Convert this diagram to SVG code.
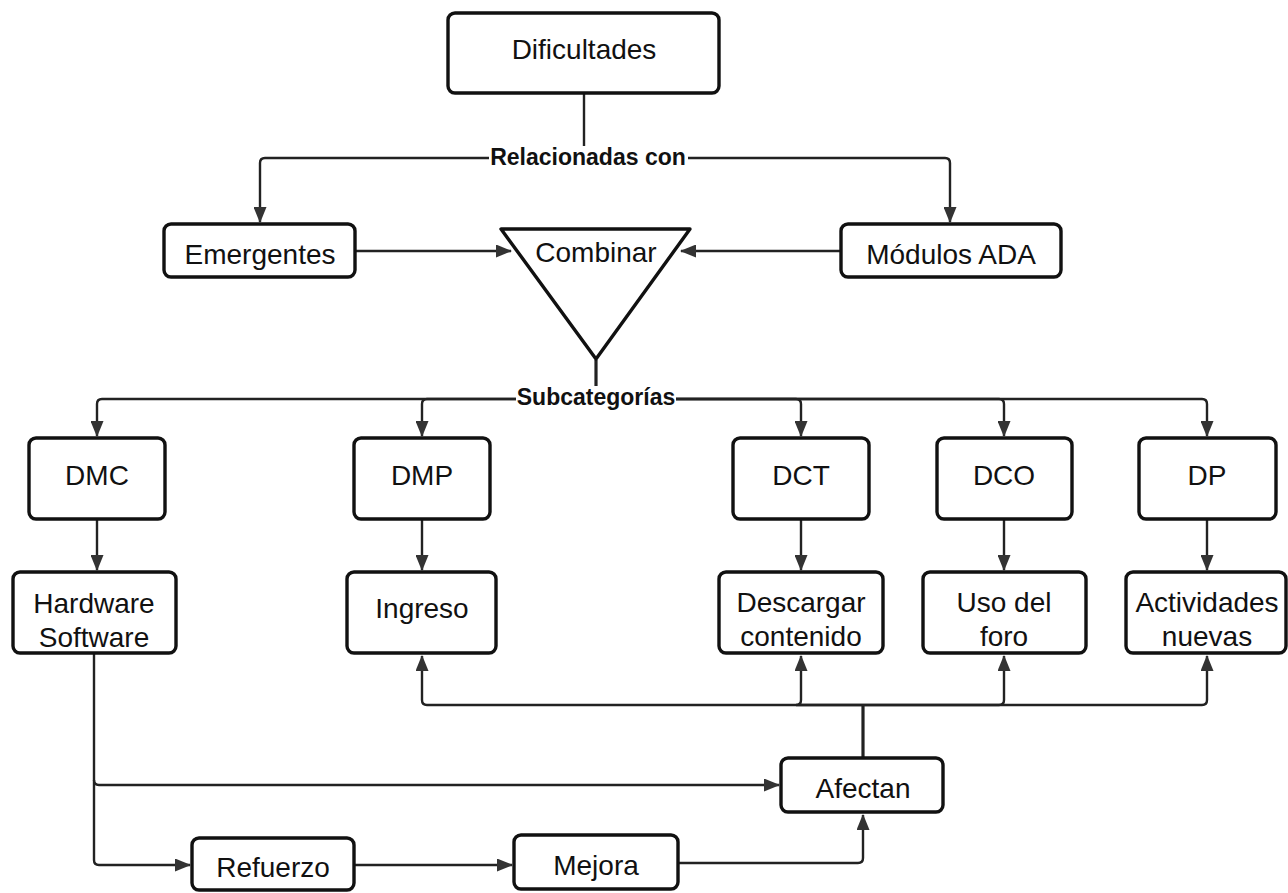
<svg xmlns="http://www.w3.org/2000/svg" width="1288" height="893" viewBox="0 0 1288 893">
<style>
.box{fill:#fff;stroke:#111;stroke-width:3.4}
.t{font-family:"Liberation Sans",Arial,sans-serif;font-size:28px;fill:#111;text-anchor:middle}
.lb{font-family:"Liberation Sans",Arial,sans-serif;font-size:23px;font-weight:bold;fill:#111;text-anchor:middle}
.c{fill:none;stroke:#222;stroke-width:2.4}
.thick{stroke-width:3.2}
</style>
<defs>
<marker id="a" markerUnits="userSpaceOnUse" markerWidth="16" markerHeight="13" refX="15" refY="6.5" orient="auto">
<path d="M0,0 L16,6.5 L0,13 z" fill="#333"/>
</marker>
</defs>
<rect width="1288" height="893" fill="#fff"/>
<g id="connectors">
<path class="c" d="M584,93 V158"/>
<path class="c" d="M584,158 H265 Q260,158 260,163 V222" marker-end="url(#a)"/>
<path class="c" d="M584,158 H945 Q950,158 950,163 V222" marker-end="url(#a)"/>
<path class="c" d="M355,251 H511" marker-end="url(#a)"/>
<path class="c" d="M841,251 H681" marker-end="url(#a)"/>
<path class="c thick" d="M596,360 V399"/>
<path class="c" d="M596,399 H102 Q97,399 97,404 V436" marker-end="url(#a)"/>
<path class="c" d="M596,399 H427 Q422,399 422,404 V436" marker-end="url(#a)"/>
<path class="c" d="M596,399 H796 Q801,399 801,404 V436" marker-end="url(#a)"/>
<path class="c" d="M596,399 H999 Q1004,399 1004,404 V436" marker-end="url(#a)"/>
<path class="c" d="M596,399 H1202 Q1207,399 1207,404 V436" marker-end="url(#a)"/>
<path class="c" d="M97,519 V570" marker-end="url(#a)"/>
<path class="c" d="M422,519 V570" marker-end="url(#a)"/>
<path class="c" d="M801,519 V570" marker-end="url(#a)"/>
<path class="c" d="M1004,519 V570" marker-end="url(#a)"/>
<path class="c" d="M1207,519 V570" marker-end="url(#a)"/>
<path class="c thick" d="M863,758 V705"/>
<path class="c" d="M863,705 H427 Q422,705 422,700 V656" marker-end="url(#a)"/>
<path class="c" d="M863,705 H796 Q801,705 801,700 V656" marker-end="url(#a)"/>
<path class="c" d="M863,705 H999 Q1004,705 1004,700 V656" marker-end="url(#a)"/>
<path class="c" d="M863,705 H1202 Q1207,705 1207,700 V656" marker-end="url(#a)"/>
<path class="c" d="M94,653 V860 Q94,865 99,865 H190" marker-end="url(#a)"/>
<path class="c" d="M94,780 Q94,785 99,785 H779" marker-end="url(#a)"/>
<path class="c" d="M354,865 H512" marker-end="url(#a)"/>
<path class="c" d="M678,863 H858 Q863,863 863,858 V815" marker-end="url(#a)"/>
</g>
<g id="label-relacionadas">
<rect x="489" y="146" width="199" height="24" fill="#fff"/>
<text class="lb" x="588" y="165">Relacionadas con</text>
</g>
<g id="label-subcategorias">
<rect x="516" y="386" width="160" height="24" fill="#fff"/>
<text class="lb" x="596" y="405">Subcategorías</text>
</g>
<g id="dificultades">
<rect class="box" x="448" y="13" width="271" height="80" rx="7"/>
<text class="t" x="584" y="59">Dificultades</text>
</g>
<g id="emergentes">
<rect class="box" x="164" y="224" width="191" height="53" rx="7"/>
<text class="t" x="260" y="264">Emergentes</text>
</g>
<g id="modulos">
<rect class="box" x="841" y="224" width="220" height="53" rx="7"/>
<text class="t" x="951" y="264">Módulos ADA</text>
</g>
<g id="combinar">
<path d="M501,229 L690,229 L596,359 Z" fill="#fff" stroke="#111" stroke-width="3.4" stroke-linejoin="round"/>
<text class="t" x="596" y="262">Combinar</text>
</g>
<g id="dmc">
<rect class="box" x="29" y="438" width="136" height="81" rx="7"/>
<text class="t" x="97" y="485">DMC</text>
</g>
<g id="dmp">
<rect class="box" x="354" y="438" width="136" height="81" rx="7"/>
<text class="t" x="422" y="485">DMP</text>
</g>
<g id="dct">
<rect class="box" x="733" y="438" width="136" height="81" rx="7"/>
<text class="t" x="801" y="485">DCT</text>
</g>
<g id="dco">
<rect class="box" x="937" y="438" width="135" height="81" rx="7"/>
<text class="t" x="1004" y="485">DCO</text>
</g>
<g id="dp">
<rect class="box" x="1139" y="438" width="137" height="81" rx="7"/>
<text class="t" x="1207" y="485">DP</text>
</g>
<g id="hardware">
<rect class="box" x="13" y="572" width="163" height="81" rx="7"/>
<text class="t" x="94" y="613">Hardware</text>
<text class="t" x="94" y="647">Software</text>
</g>
<g id="ingreso">
<rect class="box" x="347" y="572" width="149" height="81" rx="7"/>
<text class="t" x="422" y="618">Ingreso</text>
</g>
<g id="descargar">
<rect class="box" x="719" y="572" width="164" height="81" rx="7"/>
<text class="t" x="801" y="612">Descargar</text>
<text class="t" x="801" y="646">contenido</text>
</g>
<g id="uso">
<rect class="box" x="923" y="572" width="163" height="81" rx="7"/>
<text class="t" x="1004" y="612">Uso del</text>
<text class="t" x="1004" y="646">foro</text>
</g>
<g id="actividades">
<rect class="box" x="1126" y="572" width="160" height="81" rx="7"/>
<text class="t" x="1207" y="612">Actividades</text>
<text class="t" x="1207" y="646">nuevas</text>
</g>
<g id="afectan">
<rect class="box" x="781" y="758" width="162" height="54" rx="7"/>
<text class="t" x="863" y="798">Afectan</text>
</g>
<g id="refuerzo">
<rect class="box" x="192" y="838" width="162" height="52" rx="7"/>
<text class="t" x="273" y="877">Refuerzo</text>
</g>
<g id="mejora">
<rect class="box" x="514" y="835" width="164" height="54" rx="7"/>
<text class="t" x="596" y="875">Mejora</text>
</g>
</svg>
